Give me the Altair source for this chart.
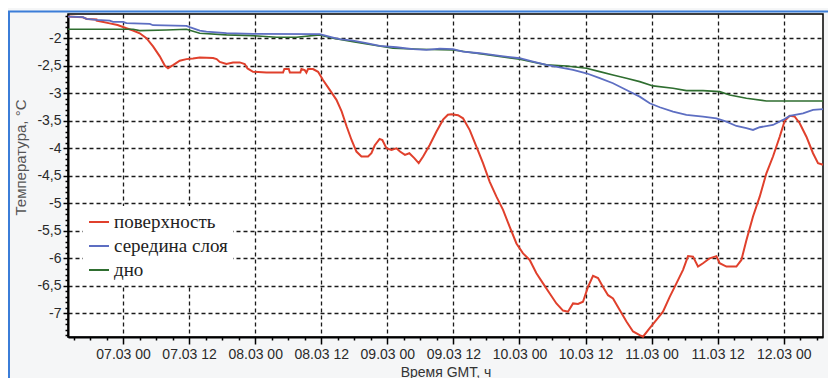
import altair as alt
import pandas as pd

SERIES = ["поверхность", "середина слоя", "дно"]
COLORS = ["#e0402c", "#5d6ec2", "#2f6e30"]

# hours relative to 07.03 00:00 GMT, temperatures in °C
RED_H = [-9.99, -7.3, -6.6, -4.83, -4.8, -2.42, -1.0, 0.62, 1.82, 3.03, 4.25, 5.45, 6.67, 7.6, 8.17,
         9.08, 10.3, 11.51, 12.71, 13.93, 16.35, 17.0, 17.56, 18.78, 19.98, 21.2, 22.1, 22.6, 23.61,
         26.04, 29.06, 29.3, 30.1, 30.3, 32.2, 32.4, 33.0, 33.3, 33.6, 34.5, 35.42, 36.32, 37.54,
         38.76, 39.7, 40.6, 41.5, 42.39, 43.3, 44.5, 45.11, 45.7, 46.6, 47.1, 47.84, 48.75, 49.65,
         50.3, 51.2, 52.0, 52.9, 53.7, 54.5, 55.7, 56.91, 58.12, 59.0, 59.64, 60.84, 61.75, 62.97,
         64.18, 65.38, 66.6, 67.82, 69.02, 70.23, 71.45, 72.65, 73.86, 75.08, 76.28, 77.5, 78.71,
         79.91, 80.82, 81.73, 82.64, 83.54, 84.45, 85.36, 86.27, 87.18, 88.09, 88.99, 90.21, 91.43,
         92.63, 93.84, 94.44, 95.66, 96.88, 98.07, 99.29, 100.51, 101.71, 102.62, 103.52, 104.43,
         105.34, 106.56, 107.77, 108.37, 109.59, 111.4, 112.31, 113.22, 114.42, 115.64, 116.85,
         118.05, 119.27, 120.18, 121.09, 122.0, 122.9, 124.12, 125.32, 126.23, 127.14]
RED_T = [-1.607, -1.62, -1.65, -1.66, -1.68, -1.73, -1.76, -1.82, -1.86, -1.91, -2.0, -2.15, -2.33,
         -2.5, -2.545, -2.49, -2.41, -2.38, -2.37, -2.35, -2.36, -2.38, -2.43, -2.47, -2.44, -2.44,
         -2.47, -2.55, -2.61, -2.625, -2.625, -2.56, -2.56, -2.625, -2.625, -2.56, -2.58, -2.625,
         -2.56, -2.56, -2.61, -2.76, -2.94, -3.12, -3.33, -3.6, -3.85, -4.06, -4.15, -4.15, -4.09,
         -3.95, -3.83, -3.85, -4.0, -4.03, -4.0, -4.06, -4.12, -4.09, -4.18, -4.27, -4.15, -3.94,
         -3.7, -3.48, -3.39, -3.38, -3.4, -3.455, -3.67, -3.97, -4.27, -4.61, -4.88, -5.12, -5.43,
         -5.73, -5.91, -6.03, -6.27, -6.455, -6.64, -6.82, -6.95, -6.97, -6.82, -6.83, -6.79, -6.52,
         -6.32, -6.36, -6.52, -6.67, -6.73, -6.94, -7.15, -7.33, -7.395, -7.425, -7.27, -7.12,
         -6.97, -6.7, -6.455, -6.21, -5.96, -5.97, -6.15, -6.09, -6.0, -5.96, -6.09, -6.15, -6.15,
         -6.03, -5.67, -5.24, -4.88, -4.455, -4.15, -3.79, -3.5, -3.41, -3.425, -3.545, -3.79,
         -4.09, -4.27, -4.3]

BLUE_H = [-9.99, -7.3, -6.65, -4.83, -2.42, -1.82, 0.0, 0.62, 4.85, 5.45, 11.51, 12.11, 13.93,
          15.15, 18.78, 23.61, 35.72, 36.94, 38.14, 39.36, 41.77, 44.2, 46.62, 49.65, 52.68, 55.1,
          57.52, 59.94, 61.75, 64.78, 68.42, 72.05, 74.47, 76.89, 79.31, 81.73, 84.16, 86.58,
          88.99, 91.43, 93.84, 95.66, 97.48, 99.89, 102.32, 105.34, 107.77, 109.59, 111.4, 113.22,
          114.42, 115.64, 118.05, 119.87, 121.09, 123.5, 125.32, 127.14]
BLUE_T = [-1.607, -1.618, -1.649, -1.667, -1.68, -1.703, -1.703, -1.727, -1.74, -1.764, -1.776,
          -1.8, -1.862, -1.88, -1.909, -1.92, -1.927, -1.958, -1.989, -2.018, -2.044, -2.091,
          -2.14, -2.164, -2.2, -2.213, -2.19, -2.2, -2.243, -2.273, -2.322, -2.364, -2.425,
          -2.485, -2.528, -2.576, -2.637, -2.727, -2.818, -2.94, -3.062, -3.182, -3.255, -3.334,
          -3.395, -3.425, -3.455, -3.516, -3.595, -3.636, -3.667, -3.618, -3.576, -3.485, -3.413,
          -3.364, -3.304, -3.29]

GREEN_H = [-9.99, 1.82, 3.03, 7.88, 11.51, 13.93, 18.78, 23.61, 27.86, 31.49, 35.72, 38.14, 41.77,
           49.04, 53.89, 59.94, 72.05, 76.89, 80.53, 84.16, 86.58, 88.99, 91.43, 93.84, 96.26,
           99.89, 102.32, 105.34, 108.37, 110.19, 113.22, 116.85, 127.14]
GREEN_T = [-1.836, -1.836, -1.862, -1.85, -1.836, -1.909, -1.94, -1.953, -1.982, -1.982, -1.94,
           -2.0, -2.062, -2.182, -2.2, -2.213, -2.382, -2.485, -2.504, -2.545, -2.607, -2.667,
           -2.727, -2.789, -2.867, -2.909, -2.953, -2.953, -2.971, -3.031, -3.091, -3.14, -3.14]

BASE = pd.Timestamp("2015-03-07T00:00:00Z")


def frame(name, hours, temps):
    t = [(BASE + pd.Timedelta(hours=h)).strftime("%Y-%m-%dT%H:%M:%SZ") for h in hours]
    return pd.DataFrame({"time": t, "temp": temps, "series": name})


df = pd.concat([
    frame(SERIES[0], RED_H, RED_T),
    frame(SERIES[1], BLUE_H, BLUE_T),
    frame(SERIES[2], GREEN_H, GREEN_T),
], ignore_index=True)

x_ticks = [int((BASE + pd.Timedelta(hours=h)).value // 10**6) for h in range(-9, 127, 3)]
y_ticks = [round(-7.4 + 0.1 * i, 1) for i in range(59)]

XTEST = "utchours(datum.value) % 12 === 0"
YTEST = "abs(datum.value * 2 - round(datum.value * 2)) < 0.01"

x_enc = alt.X(
    "time:T",
    scale=alt.Scale(type="utc", nice=False,
                    domain=[alt.DateTime(year=2015, month=3, date=6, hours=14, utc=True),
                            alt.DateTime(year=2015, month=3, date=12, hours=7, minutes=8, utc=True)]),
    axis=alt.Axis(
        values=x_ticks,
        labelExpr=f"{XTEST} ? utcFormat(datum.value, '%d.%m %H') : ''",
        labelOverlap=False, labelFlush=False, labelBound=False,
        tickSize={"condition": {"test": XTEST, "value": 7}, "value": 3},
        gridOpacity={"condition": {"test": XTEST, "value": 1}, "value": 0},
        grid=True, gridDash=[4, 3], gridColor="#1a1a1a", gridWidth=1.3,
        domainColor="black", domainWidth=2, tickColor="black", tickWidth=1.5,
        labelFont="Liberation Sans", labelFontSize=14, labelColor="#2a2a2a", labelPadding=3,
        title="Время GMT, ч", titleFont="Liberation Sans", titleFontSize=14,
        titleFontWeight="normal", titleColor="#333", titlePadding=4,
    ),
)

y_enc = alt.Y(
    "temp:Q",
    scale=alt.Scale(domain=[-7.43, -1.56], nice=False, zero=False),
    axis=alt.Axis(
        values=y_ticks,
        labelExpr=f"{YTEST} ? replace(toString(datum.value), '.', ',') : ''",
        labelOverlap=False, labelFlush=False, labelBound=False,
        tickSize={"condition": {"test": YTEST, "value": 5}, "value": 3},
        gridOpacity={"condition": {"test": YTEST, "value": 1}, "value": 0},
        grid=True, gridDash=[4, 3], gridColor="#1a1a1a", gridWidth=1.3,
        domainColor="black", domainWidth=2, tickColor="black", tickWidth=1.5,
        labelFont="Liberation Sans", labelFontSize=14, labelColor="#2a2a2a", labelPadding=2,
        title="Температура, °С", titleFont="Liberation Sans", titleFontSize=15,
        titleFontWeight="normal", titleColor="#555", titleX=-48, titleY=143,
        titleAngle=270, titleBaseline="middle", titleAlign="center",
    ),
)

color_enc = alt.Color(
    "series:N",
    scale=alt.Scale(domain=SERIES, range=COLORS),
    legend=alt.Legend(
        title=None, orient="none", legendX=15, legendY=192,
        fillColor="white", padding=5, symbolType="stroke", symbolSize=400,
        symbolStrokeWidth=2, labelFont="Liberation Serif", labelFontSize=19,
        labelColor="#222", rowPadding=3, labelOffset=4,
    ),
)

base = alt.Chart(df)
layers = []
for name, w in [(SERIES[0], 2), (SERIES[2], 1.6), (SERIES[1], 1.8)]:
    layers.append(
        base.transform_filter(alt.datum.series == name)
        .mark_line(strokeWidth=w)
        .encode(x=x_enc, y=y_enc, color=color_enc)
    )

frame_color = "#3b7dd8"
top_rule = alt.Chart(pd.DataFrame({"a": [0]})).mark_rule(color=frame_color, strokeWidth=2).encode(
    x=alt.value(-60), x2=alt.value(770), y=alt.value(-2.5))
left_rule = alt.Chart(pd.DataFrame({"a": [0]})).mark_rule(color=frame_color, strokeWidth=2).encode(
    x=alt.value(-59), y=alt.value(-2.5), y2=alt.value(380))

chart = alt.layer(*layers, top_rule, left_rule).properties(
    width=755, height=323,
    padding={"left": 60, "top": 6, "right": 5, "bottom": 50},
    autosize=alt.AutoSizeParams(type="none"),
    background="#f5f6f7",
).configure_view(stroke="black", strokeWidth=1.5, fill="white")

chart.save("out.html", embed_options={"renderer": "svg", "actions": False})
